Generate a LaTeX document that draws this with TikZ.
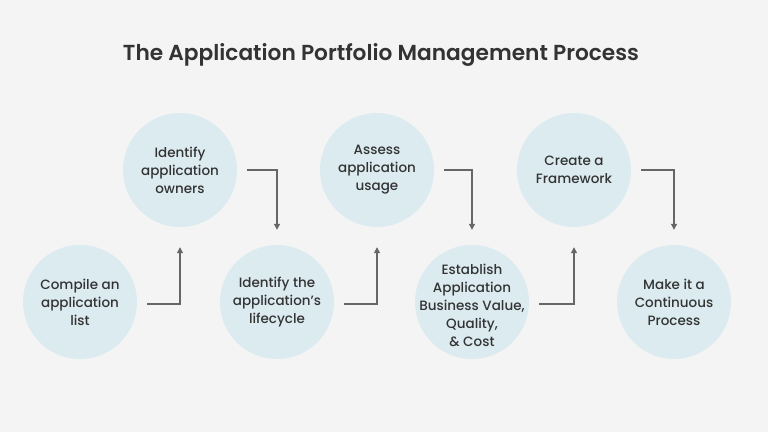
\documentclass[tikz,border=0pt]{standalone}
\usepackage{fontspec}
\setmainfont{Poppins}[UprightFont=* Medium, BoldFont=* SemiBold]
\usetikzlibrary{arrows.meta}
\definecolor{bg}{HTML}{F4F4F4}
\definecolor{circ}{HTML}{DCEBF0}
\definecolor{txt}{HTML}{333333}
\definecolor{arr}{HTML}{666666}
\tikzset{
  stepcirc/.style={circle, fill=circ, minimum size=114pt, inner sep=0pt},
  steptext/.style={align=center, inner sep=0pt, text=txt, font=\fontsize{13.5}{18}\selectfont},
  conn/.style={draw=arr, line width=1.1pt, -{Triangle[length=6pt,width=6pt]}}
}
\begin{document}
\begin{tikzpicture}[x=1pt,y=-1pt]
\fill[bg] (0,0) rectangle (768,432);
\useasboundingbox (0,0) rectangle (768,432);
\node[text=txt, font=\bfseries\fontsize{21.7}{24}\selectfont] (title) at (381,55) {The Application Portfolio Management Process};
\node[stepcirc] (c1) at (80,302) {};
\node[stepcirc] (c2) at (180,170) {};
\node[stepcirc] (c3) at (277,302) {};
\node[stepcirc] (c4) at (377,170) {};
\node[stepcirc] (c5) at (472,302) {};
\node[stepcirc] (c6) at (574,170) {};
\node[stepcirc] (c7) at (674,302) {};
\node[steptext] (t1) at (c1) {Compile an\\application\\list};
\node[steptext] (t2) at (c2) {Identify\\application\\owners};
\node[steptext] (t3) at (c3) {Identify the\\application's\\lifecycle};
\node[steptext] (t4) at (c4) {Assess\\application\\usage};
\node[steptext] (t5) at ([yshift=-3pt]c5) {Establish\\Application\\Business Value,\\Quality,\\\& Cost};
\node[steptext] (t6) at (c6) {Create a\\Framework};
\node[steptext] (t7) at (c7) {Make it a\\Continuous\\Process};
\draw[conn] ([xshift=10pt,yshift=-2pt]c1.east) -| ([yshift=-20pt]c2.south);
\draw[conn] ([xshift=10pt]c2.east) -| ([yshift=15pt]c3.north);
\draw[conn] ([xshift=10pt,yshift=-2pt]c3.east) -| ([yshift=-20pt]c4.south);
\draw[conn] ([xshift=10pt]c4.east) -| ([yshift=15pt]c5.north);
\draw[conn] ([xshift=10pt,yshift=-2pt]c5.east) -| ([yshift=-20pt]c6.south);
\draw[conn] ([xshift=10pt]c6.east) -| ([yshift=15pt]c7.north);
\end{tikzpicture}
\end{document}
